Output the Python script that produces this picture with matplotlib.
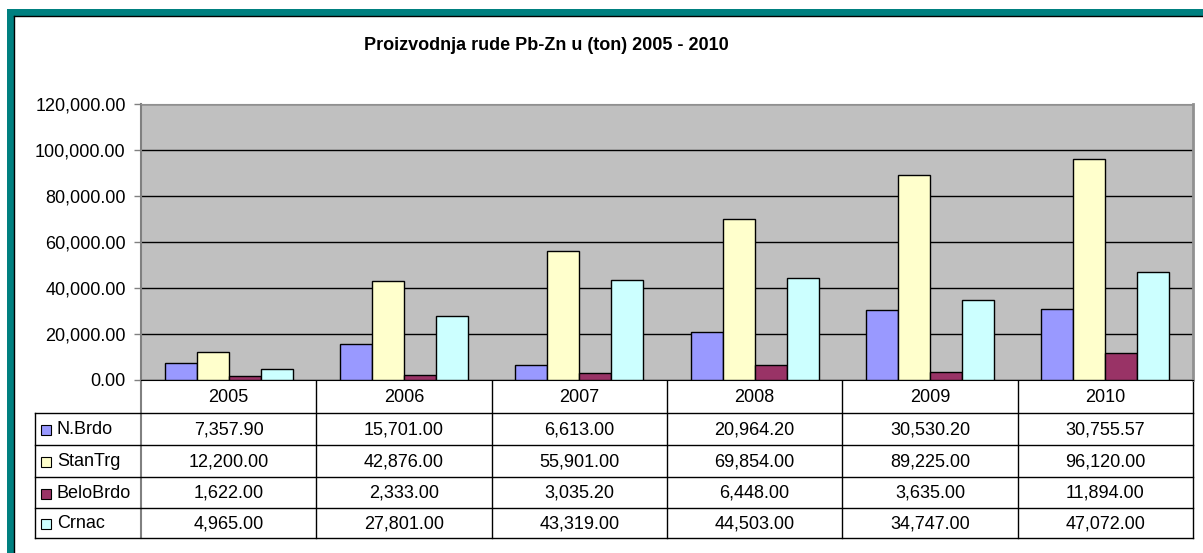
import matplotlib.pyplot as plt
from matplotlib.patches import Rectangle
import numpy as np

plt.rcParams['font.family'] = ['Liberation Sans', 'DejaVu Sans']

# dados
anos = ['2005', '2006', '2007', '2008', '2009', '2010']
series = ['N.Brdo', 'StanTrg', 'BeloBrdo', 'Crnac']
n_brdo = [7357.90, 15701.00, 6613.00, 20964.20, 30530.20, 30755.57]
stan_trg = [12200.00, 42876.00, 55901.00, 69854.00, 89225.00, 96120.00]
belo_brdo = [1622.00, 2333.00, 3035.20, 6448.00, 3635.00, 11894.00]
crnac = [4965.00, 27801.00, 43319.00, 44503.00, 34747.00, 47072.00]
cores = ['#9999FF', '#FFFFCC', '#993366', '#CCFFFF']
valores = [n_brdo, stan_trg, belo_brdo, crnac]

W, H = 1203, 553
fig = plt.figure(figsize=(W / 100, H / 100), dpi=100)
fig.patch.set_facecolor('white')

# moldura (overlay em pixels)
ov = fig.add_axes([0, 0, 1, 1])
ov.set_xlim(0, W)
ov.set_ylim(H, 0)
ov.axis('off')
ov.add_patch(Rectangle((7, 9), W, H, facecolor='#008080', edgecolor='none'))
ov.add_patch(Rectangle((14, 16), W, H, facecolor='white', edgecolor='none'))
ov.plot([14, W], [16, 16], color='black', lw=1)
ov.plot([14, 14], [16, H], color='black', lw=1)

ov.text(546, 46, 'Proizvodnja rude Pb-Zn u (ton) 2005 - 2010', ha='center', va='center',
        fontsize=13, fontweight='bold')

# area do grafico
x0, x1, y0, y1 = 141, 1193, 104, 380
ax = fig.add_axes([x0 / W, (H - y1) / H, (x1 - x0) / W, (y1 - y0) / H])
ax.set_facecolor('#C0C0C0')
x = np.arange(len(anos))
larg = 0.1825
for i, (s, v, c) in enumerate(zip(series, valores, cores)):
    ax.bar(x + (i - 1.5) * larg, v, larg, color=c, edgecolor='black', linewidth=1, zorder=3)
ax.set_xlim(-0.5, len(anos) - 0.5)
ax.set_ylim(0, 120000)
ax.set_yticks(np.arange(0, 120001, 20000))
ax.set_yticklabels([f'{t:,.2f}' for t in np.arange(0, 120001, 20000)], fontsize=13)
ax.yaxis.grid(True, color='black', linewidth=1, zorder=1)
ax.set_axisbelow(True)
ax.set_xticks([])
ax.tick_params(axis='y', length=5, width=1, color='#808080', pad=6)
for lado in ['top', 'right']:
    ax.spines[lado].set_color('#909090')
ax.spines['right'].set_linewidth(2)
ax.spines['left'].set_color('#808080')
ax.spines['left'].set_linewidth(1.5)
ax.spines['bottom'].set_color('black')

# tabela de dados
t_esq, t_base = 35, 538
linhas = [380, 413, 445, 477, 508, 538]
colw = (x1 - x0) / len(anos)
lc = 'black'
ov.plot([x1, x1], [380, t_base], color=lc, lw=1)
ov.plot([x0, x0], [380, t_base], color='#808080', lw=1.5)
for k in range(1, len(anos)):
    xv = x0 + k * colw
    ov.plot([xv, xv], [380, t_base], color=lc, lw=1)
for yl in linhas[1:]:
    ov.plot([t_esq, x1], [yl, yl], color=lc, lw=1)
ov.plot([t_esq, t_esq], [linhas[1], t_base], color=lc, lw=1)

fs = 13
for k, a in enumerate(anos):
    ov.text(x0 + (k + 0.5) * colw, (linhas[0] + linhas[1]) / 2 + 1, a,
            ha='center', va='center', fontsize=fs)
for r, (s, v, c) in enumerate(zip(series, valores, cores)):
    yc = (linhas[r + 1] + linhas[r + 2]) / 2 + 1
    ov.add_patch(Rectangle((41, yc - 5), 10, 10, facecolor=c, edgecolor='black', lw=0.8))
    ov.text(57, yc, s, ha='left', va='center', fontsize=fs)
    for k, val in enumerate(v):
        ov.text(x0 + (k + 0.5) * colw, yc, f'{val:,.2f}', ha='center', va='center', fontsize=fs)

fig.savefig('out.png', dpi=100)
